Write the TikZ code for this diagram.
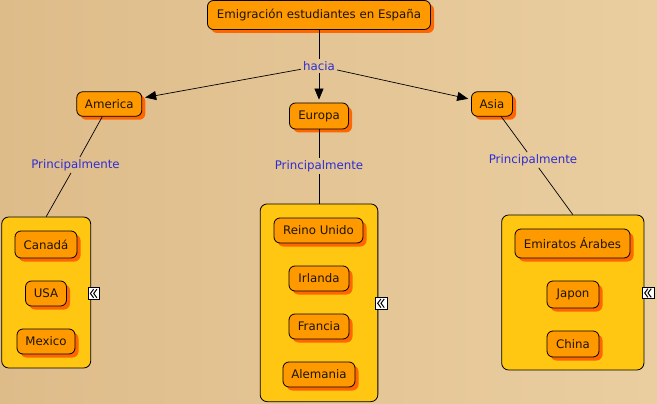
\documentclass[tikz,border=0pt]{standalone}
\usepackage{fontspec}
\setmainfont{DejaVu Sans}
\usetikzlibrary{shadows,arrows.meta}
\definecolor{boxor}{RGB}{255,153,0}
\definecolor{shad}{RGB}{255,102,0}
\definecolor{grpcol}{RGB}{255,199,18}
\definecolor{labblue}{RGB}{45,45,210}
\definecolor{txt}{RGB}{30,20,0}
\definecolor{woodA}{RGB}{222,188,138}
\definecolor{woodB}{RGB}{234,206,160}
\begin{document}
\begin{tikzpicture}[x=1pt,y=-1pt, font=\fontsize{11.8}{14}\selectfont,
 concept/.style={draw=black, line width=0.8pt, fill=boxor, rounded corners=6pt, text=txt, inner sep=0pt,
   general shadow={fill=shad, shadow xshift=3.5pt, shadow yshift=-3.5pt}},
 grp/.style={draw=black, line width=0.8pt, fill=grpcol, rounded corners=7pt, inner sep=0pt},
 lbl/.style={text=labblue, inner sep=2pt},
 conn/.style={draw=black, line width=0.7pt},
 arr/.style={conn, -{Triangle[length=11pt,width=9pt]}, shorten >=3pt},
 expicon/.style={draw=black, fill=white, line width=0.6pt, minimum size=11.5pt, inner sep=0pt,
   path picture={
     \draw[line width=1pt] ([xshift=-0.4pt,yshift=4.3pt]path picture bounding box.center) -- ++(-3.2pt,-4.3pt) -- ++(3.2pt,-4.3pt);
     \draw[line width=1pt] ([xshift=2.9pt,yshift=4.3pt]path picture bounding box.center) -- ++(-3.2pt,-4.3pt) -- ++(3.2pt,-4.3pt);
   }}
]
\useasboundingbox (0,0) rectangle (657,404);
\shade[left color=woodA, right color=woodB] (0,0) rectangle (657,404);

% groups
\node[grp, minimum width=89pt, minimum height=151pt] (g1) at (46.2,292.5) {};
\node[grp, minimum width=117.7pt, minimum height=197.7pt] (g2) at (319,302.8) {};
\node[grp, minimum width=142.3pt, minimum height=155pt] (g3) at (572.8,292.5) {};

% main concepts
\node[concept, minimum width=223pt, minimum height=29pt] (title) at (319,15) {Emigración estudiantes en España};
\node[concept, minimum width=65pt, minimum height=24.5pt] (america) at (109.3,104) {America};
\node[concept, minimum width=59pt, minimum height=26pt] (europa) at (319,116) {Europa};
\node[concept, minimum width=41pt, minimum height=24.5pt] (asia) at (492,104) {Asia};

% items
\node[concept, minimum width=62pt, minimum height=27pt] (canada) at (46,244.5) {Canadá};
\node[concept, minimum width=41pt, minimum height=25pt] (usa) at (46,293.5) {USA};
\node[concept, minimum width=58pt, minimum height=25pt] (mexico) at (46,341.5) {Mexico};

\node[concept, minimum width=89pt, minimum height=25pt] (reino) at (318.5,230.5) {Reino Unido};
\node[concept, minimum width=60pt, minimum height=25pt] (irlanda) at (319,278.5) {Irlanda};
\node[concept, minimum width=60pt, minimum height=25pt] (francia) at (319,326.5) {Francia};
\node[concept, minimum width=72pt, minimum height=25pt] (alemania) at (319,374.5) {Alemania};

\node[concept, minimum width=115pt, minimum height=29pt] (emiratos) at (572.5,243.5) {Emiratos Árabes};
\node[concept, minimum width=52pt, minimum height=27pt] (japon) at (573,294.5) {Japon};
\node[concept, minimum width=52pt, minimum height=26pt] (china) at (573,344) {China};

% expand icons
\node[expicon] (i1) at (94,293.5) {};
\node[expicon] (i2) at (381.3,303.3) {};
\node[expicon] (i3) at (648.3,293) {};

% labels
\node[lbl] (hacia) at (319,66) {hacia};
\node[lbl] (pl1) at (75.5,165) {Principalmente};
\node[lbl] (pl2) at (319,166) {Principalmente};
\node[lbl] (pl3) at (533,160) {Principalmente};

% connectors
\draw[conn] (title) -- (hacia);
\draw[arr] (hacia) -- (europa);
\draw[arr] (hacia) -- (america);
\draw[arr] (hacia) -- (asia);
\draw[conn] (america) -- (pl1);
\draw[conn] (pl1) -- (g1.north);
\draw[conn] (europa) -- (pl2);
\draw[conn] (pl2) -- (g2.north);
\draw[conn] (asia) -- (pl3);
\draw[conn] (pl3) -- (g3.north);
\end{tikzpicture}
\end{document}
